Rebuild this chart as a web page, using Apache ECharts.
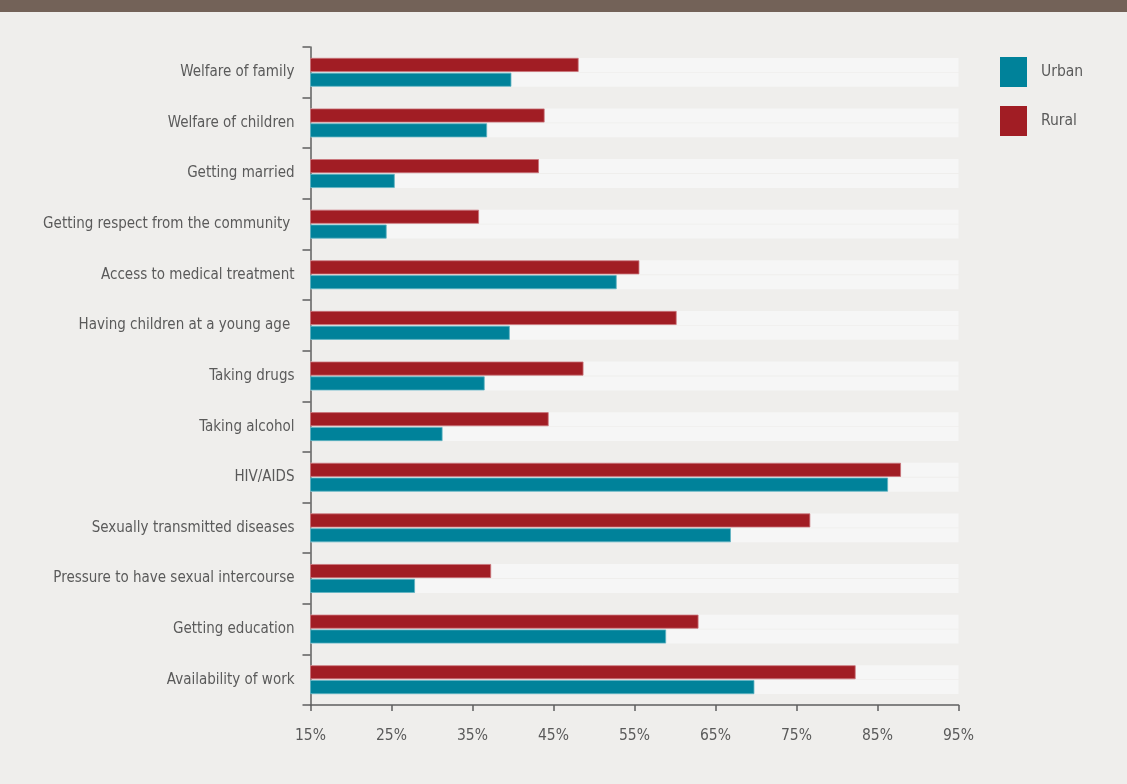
<!DOCTYPE html>
<html>
<head>
<meta charset="utf-8">
<script src="https://cdn.jsdelivr.net/npm/echarts@6/dist/echarts.min.js"></script>
<style>
  html, body { margin: 0; padding: 0; background: #efeeec; }
  #chart { width: 1127px; height: 784px; }
</style>
</head>
<body>
<div id="chart"></div>
<script>
// Categories, top to bottom
const categories = [
  'Welfare of family',
  'Welfare of children',
  'Getting married',
  'Getting respect from the community ',
  'Access to medical treatment',
  'Having children at a young age ',
  'Taking drugs',
  'Taking alcohol',
  'HIV/AIDS',
  'Sexually transmitted diseases',
  'Pressure to have sexual intercourse',
  'Getting education',
  'Availability of work'
];

// Share of respondents (%)
const urban = [39.8, 36.8, 25.4, 24.4, 52.8, 39.6, 36.5, 31.3, 86.3, 66.9, 27.9, 58.9, 69.8];
const rural = [48.1, 43.9, 43.2, 35.8, 55.6, 60.2, 48.7, 44.4, 87.9, 76.7, 37.3, 62.9, 82.3];

// Value axis ticks
const axisMin = 15;
const axisMax = 95;
const axisStep = 10;

const FONT = '"Liberation Sans Narrow", "DejaVu Sans Condensed", "Roboto", sans-serif';
const TEXT = '#5a5a5a';
const AXIS = '#5f5f5f';

const chart = echarts.init(document.getElementById('chart'), null, { renderer: 'canvas' });

chart.setOption({
  backgroundColor: '#efeeec',
  animation: false,
  graphic: [
    { type: 'rect', left: 0, top: 0, shape: { width: 1127, height: 12 }, style: { fill: '#736258' }, z: 10 }
  ],
  legend: {
    data: ['Urban', 'Rural'],
    orient: 'vertical',
    left: 1000,
    top: 57,
    padding: 0,
    icon: 'rect',
    itemWidth: 27,
    itemHeight: 30,
    itemGap: 19,
    itemStyle: { borderWidth: 0 },
    textStyle: { color: TEXT, fontFamily: FONT, fontSize: 15.5, padding: [0, 0, 0, 9] }
  },
  grid: { left: 310.5, right: 168.5, top: 47, bottom: 79, containLabel: false },
  xAxis: {
    type: 'value',
    min: axisMin,
    max: axisMax,
    interval: axisStep,
    axisLine: { show: true, lineStyle: { color: AXIS, width: 1.5 } },
    axisTick: { show: true, length: 6, lineStyle: { color: AXIS, width: 1.5 } },
    splitLine: { show: false },
    axisLabel: {
      color: TEXT, fontFamily: FONT, fontSize: 15.5, margin: 23,
      formatter: v => v + '%'
    }
  },
  yAxis: {
    type: 'category',
    data: categories,
    inverse: true,
    axisLine: { show: true, lineStyle: { color: AXIS, width: 1.5 } },
    axisTick: { show: true, length: 8, lineStyle: { color: AXIS, width: 1.5 } },
    axisLabel: { color: TEXT, fontFamily: FONT, fontSize: 15, margin: 16 }
  },
  series: [
    {
      name: 'Rural',
      type: 'bar',
      data: rural,
      barWidth: 14,
      barGap: '6%',
      showBackground: true,
      backgroundStyle: { color: '#f6f6f6' },
      itemStyle: { color: '#a11d24', borderColor: '#c9747a', borderWidth: 0.8 }
    },
    {
      name: 'Urban',
      type: 'bar',
      data: urban,
      barWidth: 14,
      barGap: '6%',
      showBackground: true,
      backgroundStyle: { color: '#f6f6f6' },
      itemStyle: { color: '#00829a', borderColor: '#5fb3c2', borderWidth: 0.8 }
    }
  ]
});
</script>
</body>
</html>
